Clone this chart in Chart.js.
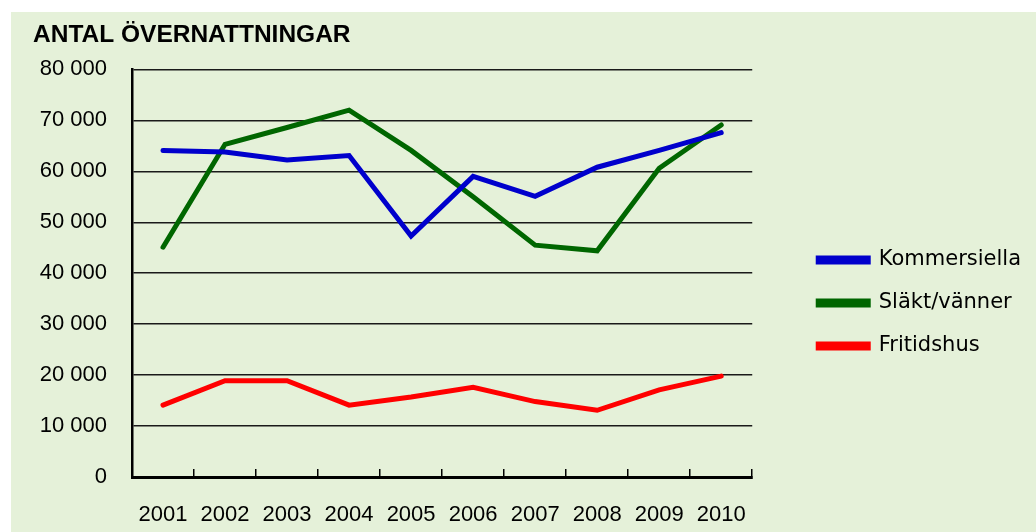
<!DOCTYPE html>
<html>
<head>
<meta charset="utf-8">
<script src="https://cdn.jsdelivr.net/npm/chart.js@4"></script>
<style>
  body { margin: 0; background: #ffffff; }
  #wrap {
    position: absolute; left: 11px; top: 12px; width: 1025px; height: 520px;
    background: #e5f1d9;
  }
</style>
</head>
<body>
<div id="wrap"><canvas id="chartNatter" width="1025" height="520"></canvas></div>
<script>
// Kategorier och serier
const years = ['2001', '2002', '2003', '2004', '2005', '2006', '2007', '2008', '2009', '2010'];
const kommersiella = [64100, 63800, 62200, 63100, 47300, 59000, 55100, 60800, 64100, 67600];
const slaktVanner = [45100, 65300, 68600, 72000, 64100, 55000, 45500, 44400, 60600, 69100];
const fritidshus = [14100, 18900, 18900, 14100, 15700, 17600, 14800, 13100, 17100, 19800];
const yMax = 80000;
const yStep = 10000;

// Tusentalsavgränsare med mellanslag
function formatTal(v) {
    return String(v).replace(/\B(?=(\d{3})+(?!\d))/g, ' ');
}

const tickFont = { family: 'Liberation Sans, Arial, sans-serif', size: 22 };

new Chart(document.getElementById('chartNatter'), {
    type: 'line',
    data: {
        labels: years,
        datasets: [
            { label: 'Kommersiella', data: kommersiella, borderColor: '#0000cc', backgroundColor: '#0000cc' },
            { label: 'Släkt/vänner', data: slaktVanner, borderColor: '#006600', backgroundColor: '#006600' },
            { label: 'Fritidshus', data: fritidshus, borderColor: '#ff0000', backgroundColor: '#ff0000' }
        ]
    },
    options: {
        responsive: false,
        animation: false,
        layout: { padding: { left: 22, right: 5, top: 0, bottom: 0 } },
        elements: {
            line: { borderWidth: 5, tension: 0, borderCapStyle: 'round', fill: false },
            point: { radius: 0 }
        },
        plugins: {
            title: {
                display: true,
                text: 'ANTAL ÖVERNATTNINGAR',
                align: 'start',
                color: '#000',
                font: { family: 'Liberation Sans, Arial, sans-serif', size: 24.5, weight: 'bold' },
                padding: { top: 9, bottom: 19 }
            },
            legend: {
                position: 'right',
                maxWidth: 320,
                // tom rubrik, bara för att flytta ner förklaringen
                title: { display: true, text: ' ', font: { size: 10, lineHeight: 1 }, padding: { top: 52, bottom: 0 } },
                labels: {
                    color: '#000',
                    boxWidth: 50,
                    boxHeight: 4,
                    padding: 22,
                    font: { family: 'DejaVu Sans, Verdana, sans-serif', size: 21 }
                }
            },
            tooltip: { enabled: false }
        },
        scales: {
            x: {
                offset: true,
                grid: { offset: true, drawOnChartArea: false, drawTicks: true, tickLength: -8, color: '#000', lineWidth: 1.5 },
                border: { display: true, color: '#000', width: 3 },
                ticks: { color: '#000', font: tickFont, padding: 33, maxRotation: 0 },
                afterFit: function (scale) { scale.height = 55; }
            },
            y: {
                min: 0,
                max: yMax,
                grid: { drawTicks: false, color: '#1a1a1a', lineWidth: 1.5 },
                border: { display: true, color: '#000', width: 2.5 },
                ticks: { stepSize: yStep, color: '#000', font: tickFont, padding: 25, callback: formatTal },
                afterFit: function (scale) { scale.width = 99; }
            },
            // tomt avstånd mellan diagram och förklaring
            gap: {
                position: 'right',
                display: true,
                grid: { display: false, drawTicks: false },
                border: { display: false },
                ticks: { display: false },
                afterFit: function (scale) { scale.width = 44; }
            }
        }
    }
});
</script>
</body>
</html>
